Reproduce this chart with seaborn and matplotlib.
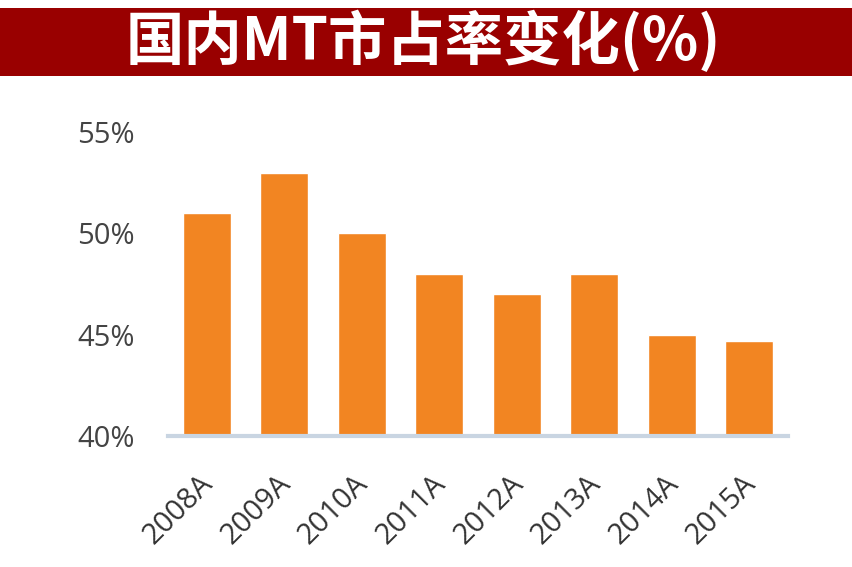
import matplotlib
matplotlib.use("Agg")
import matplotlib.pyplot as plt
import matplotlib.transforms as mtransforms
import seaborn as sns
import pandas as pd
from matplotlib.patches import Rectangle

years = ["2008A", "2009A", "2010A", "2011A", "2012A", "2013A", "2014A", "2015A"]
share = [51.0, 53.0, 50.0, 48.0, 47.0, 48.0, 45.0, 44.7]
y_ticks = [40, 45, 50, 55]
y_tick_labels = ["40%", "45%", "50%", "55%"]
title = "国内MT市占率变化(%)"

sns.set_theme(style="white")
plt.rcParams["font.family"] = ["Open Sans", "Noto Sans CJK SC", "DejaVu Sans"]

df = pd.DataFrame({"year": years, "share": share})

fig = plt.figure(figsize=(8.52, 5.67), dpi=100)
ax = fig.add_axes([0.197, 0.231, 0.728, 0.536])

sns.barplot(data=df, x="year", y="share", color="#F28522", saturation=1,
            width=0.62, ax=ax)
ax.set_ylim(40, 55)
ax.set_xlim(-0.5, 7.5)
ax.set_yticks(y_ticks)
ax.set_yticklabels(y_tick_labels, fontsize=21, color="#444444")
ax.set_xticks(range(len(years)))
ax.set_xticklabels(years, fontsize=21, color="#333333", rotation=45,
                   ha="right", rotation_mode="anchor")
ax.tick_params(axis="y", length=0, pad=24)
ax.tick_params(axis="x", length=0, pad=24)
# nudge rotated year labels a little to the left
shift = mtransforms.ScaledTranslation(-8 / 100, 0, fig.dpi_scale_trans)
for lbl in ax.get_xticklabels():
    lbl.set_transform(lbl.get_transform() + shift)
ax.set_xlabel("")
ax.set_ylabel("")
for s in ["top", "right", "left"]:
    ax.spines[s].set_visible(False)
ax.spines["bottom"].set_color("#C9D5E2")
ax.spines["bottom"].set_linewidth(3)

# title banner
fig.patches.append(Rectangle((0, 1 - 76 / 567), 1, 68 / 567, transform=fig.transFigure,
                             facecolor="#990000", edgecolor="none", zorder=0))
fig.text(0.497, 1 - 42 / 567, title, ha="center", va="center", color="white",
         fontsize=42, fontweight="heavy", family=["Noto Sans CJK SC", "DejaVu Sans"])

fig.savefig("out.png", dpi=100)
